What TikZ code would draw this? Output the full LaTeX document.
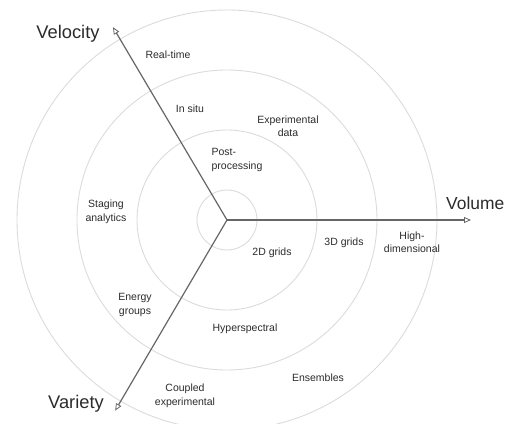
\documentclass[tikz,border=0pt]{standalone}
\usepackage{fontspec}
\setmainfont{Liberation Sans}
\usetikzlibrary{positioning, arrows.meta}
\definecolor{ringgray}{rgb}{0.86,0.86,0.86}
\definecolor{axisgray}{rgb}{0.4,0.4,0.4}
\definecolor{inkgray}{rgb}{0.17,0.17,0.17}

\begin{document}
\begin{tikzpicture}[
  x=1pt, y=1pt,
  ring/.style={draw=ringgray, line width=0.9pt},
  axis/.style={
    draw=axisgray,
    line width=1.2pt,
    -{Triangle[open, length=7pt, width=6pt, line width=0.8pt]}
  },
  tag/.style={
    text=inkgray,
    font=\fontsize{10.5}{13.5}\selectfont,
    align=center,
    inner sep=0pt
  },
  dimension/.style={
    text=inkgray,
    font=\fontsize{18.3}{20}\selectfont,
    inner sep=0pt
  }
]

\useasboundingbox (-227,-203) rectangle (281,220);

\coordinate (o) at (0,0);
\foreach \r in {30,90,150,210}
  \draw[ring] (o) circle[radius=\r];

\coordinate (vel) at (120.6:224);
\coordinate (vol) at (0:244);
\coordinate (var) at (239.6:221);

\draw[axis] (o) -- (vel);
\draw[axis] (o) -- (vol);
\draw[axis] (o) -- (var);

\node[dimension] (velocity) at (-159,186) {Velocity};
\node[dimension, anchor=west, font=\fontsize{17.4}{20}\selectfont] (volume) at (219,17) {Volume};
\node[dimension] (variety) at (-151,-184) {Variety};

\node[tag] (realtime) at (-59,165) {Real-time};
\node[tag] (insitu) at (-37,111) {In situ};
\node[tag, align=left] (post) at (10,60) {Post-\\processing};
\node[tag] (experimental) at (61,94) {Experimental\\data};
\node[tag] (staging) at (-121,8) {Staging\\analytics};
\node[tag] (grids2d) at (45,-33) {2D grids};
\node[tag] (grids3d) at (117,-23) {3D grids};
\node[tag] (highdim) at (185,-22) {High-\\dimensional};
\node[tag] (energy) at (-92,-85) {Energy\\groups};
\node[tag] (hyper) at (18,-109) {Hyperspectral};
\node[tag] (ensembles) at (91,-158) {Ensembles};
\node[tag] (coupled) at (-42,-176) {Coupled\\experimental};

\end{tikzpicture}
\end{document}
